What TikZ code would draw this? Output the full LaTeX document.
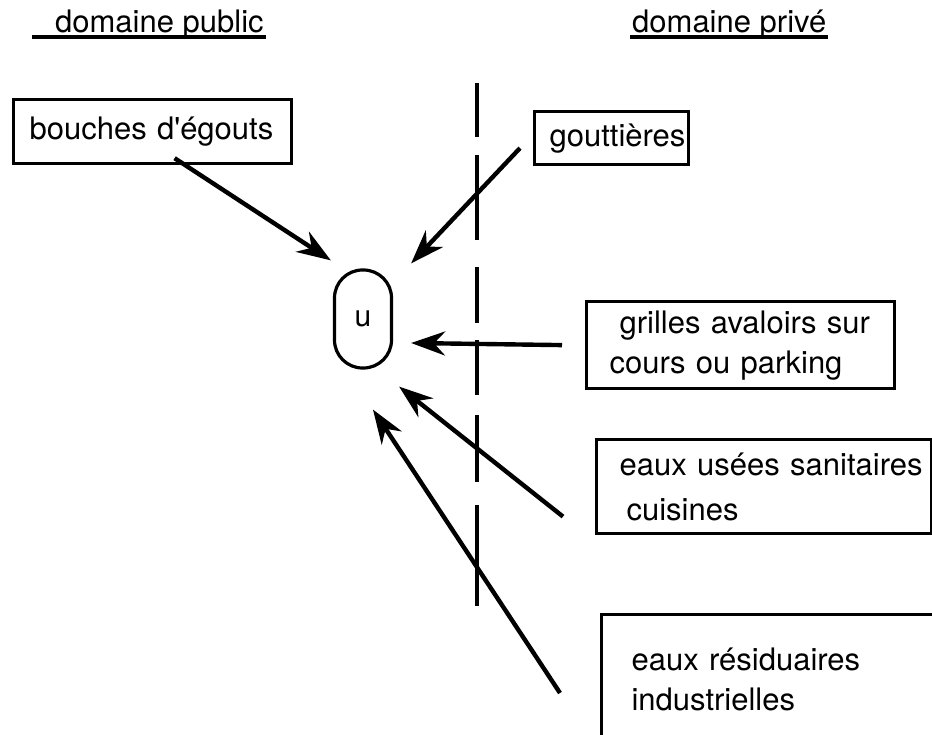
\documentclass[tikz,border=0pt]{standalone}
\usepackage{fontspec}
\setmainfont{TeX Gyre Heros}
\usetikzlibrary{arrows.meta, positioning}

\begin{document}
\begin{tikzpicture}[x=1pt, y=-1pt, ->, >={Stealth[length=34pt, width=24pt]}, line width=4.4pt]
\tikzset{every node/.style={font=\fontsize{31}{40}\selectfont, inner sep=0pt}}
\tikzset{box/.style={draw, line width=3.2pt, anchor=north west, align=left}}
\useasboundingbox (0,0) rectangle (932,735);
\clip (0,0) rectangle (932,735);

\node[anchor=base west](public) at (53,33) {domaine public};
\node[anchor=base west](prive) at (630,33) {domaine privé};
\draw[-, line width=3.4pt] ([shift={(-21,4)}]public.base west) -- ([shift={(0,4)}]public.base east);
\draw[-, line width=3.4pt] ([shift={(0,4)}]prive.base west) -- ([shift={(0,4)}]prive.base east);

\foreach \a/\b in {83/137, 155/240, 267/323, 340/395, 415/482, 505/606}
  \draw[-, line width=3.4pt] (477,\a) -- (477,\b);

\node[draw, rounded corners=28pt, minimum width=57pt, minimum height=98pt, line width=3.2pt, font=\fontsize{30}{32}\selectfont](u) at (363,319) {u};

\node[box, text width=278pt, minimum height=64pt](bouches) at (12,98) {\hspace*{16pt}bouches d\textquotesingle égouts};
\node[box, text width=154pt, minimum height=53pt](gout) at (533,110) {\hspace*{15pt}gouttières};
\node[box, text width=308pt, minimum height=87pt](grilles) at (585,300) {\hspace*{33pt}grilles avaloirs sur\\\hspace*{23pt}cours ou parking};
\node[box, text width=335pt, minimum height=94pt](usees) at (595,438) {\hspace*{23pt}eaux usées sanitaires\\[5pt]\hspace*{30pt}cuisines};
\node[box, text width=345pt, minimum height=130pt](resid) at (600,613) {\hspace*{30pt}eaux résiduaires\\\hspace*{30pt}industrielles};

\draw ([shift={(22,-7)}]bouches.south) -- ([shift={(-2,-8)}]u.north west);
\draw ([shift={(-13,10)}]gout.west) -- ([shift={(18,-5)}]u.north east);
\draw ([shift={(-23,0)}]grilles.west) -- ([shift={(18,24)}]u.east);
\draw ([shift={(-32,30)}]usees.west) -- ([shift={(6,17)}]u.south east);
\draw ([shift={(-40,80)}]resid.north west) -- ([shift={(10,40)}]u.south);

\end{tikzpicture}
\end{document}
